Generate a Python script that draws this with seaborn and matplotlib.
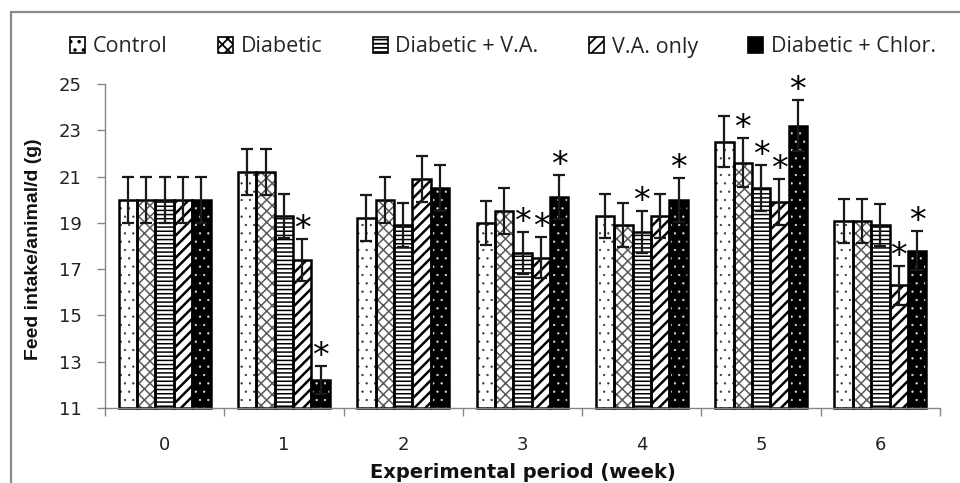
import numpy as np
import pandas as pd
import matplotlib
matplotlib.use("Agg")
import matplotlib.pyplot as plt
import matplotlib.patches as mpatches
from matplotlib.lines import Line2D
import seaborn as sns

# ---- data -------------------------------------------------------------
weeks = ["0", "1", "2", "3", "4", "5", "6"]
groups = ["Control", "Diabetic", "Diabetic + V.A.", "V.A. only", "Diabetic + Chlor."]

control = [20.0, 21.2, 19.2, 19.0, 19.3, 22.5, 19.1]
diabetic = [20.0, 21.2, 20.0, 19.5, 18.9, 21.6, 19.1]
diabetic_va = [20.0, 19.3, 18.9, 17.7, 18.6, 20.5, 18.9]
va_only = [20.0, 17.4, 20.9, 17.5, 19.3, 19.9, 16.3]
diabetic_chlor = [20.0, 12.2, 20.5, 20.1, 20.0, 23.2, 17.8]

control_err = [1.0, 1.0, 1.0, 0.95, 0.95, 1.1, 0.95]
diabetic_err = [1.0, 1.0, 1.0, 1.0, 0.95, 1.05, 0.95]
diabetic_va_err = [1.0, 0.95, 0.95, 0.9, 0.9, 1.0, 0.9]
va_only_err = [1.0, 0.9, 1.0, 0.9, 0.95, 1.0, 0.85]
diabetic_chlor_err = [1.0, 0.6, 1.0, 0.95, 0.95, 1.1, 0.85]

# 1 = significantly different (marked with *)
control_sig = [0, 0, 0, 0, 0, 0, 0]
diabetic_sig = [0, 0, 0, 0, 0, 1, 0]
diabetic_va_sig = [0, 0, 0, 1, 1, 1, 0]
va_only_sig = [0, 1, 0, 1, 0, 1, 1]
diabetic_chlor_sig = [0, 1, 0, 1, 1, 1, 1]

y_ticks = [11, 13, 15, 17, 19, 21, 23, 25]

means = [control, diabetic, diabetic_va, va_only, diabetic_chlor]
errors = [control_err, diabetic_err, diabetic_va_err, va_only_err, diabetic_chlor_err]
signif = [control_sig, diabetic_sig, diabetic_va_sig, va_only_sig, diabetic_chlor_sig]

df = pd.DataFrame({
    "week": np.tile(weeks, len(groups)),
    "group": np.repeat(groups, len(weeks)),
    "intake": np.concatenate(means),
})

# fill / hatch style per group
styles = {
    "Control": dict(face="white", hatch="..", hcolor="#333333", hlw=0.4),
    "Diabetic": dict(face="white", hatch="xxx", hcolor="#5a5a5a", hlw=1.1),
    "Diabetic + V.A.": dict(face="white", hatch="----", hcolor="black", hlw=1.1),
    "V.A. only": dict(face="white", hatch="///", hcolor="black", hlw=1.8),
    "Diabetic + Chlor.": dict(face="black", hatch="..", hcolor="#dddddd", hlw=0.4),
}

sns.set_style("white")
plt.rcParams["hatch.linewidth"] = 1.3
axis_grey = "#868686"

fig = plt.figure(figsize=(9.6, 4.83), dpi=100)
ax = fig.add_axes([105 / 960, 1 - 408 / 483, 835 / 960, 324 / 483])

sns.barplot(data=df, x="week", y="intake", hue="group", order=weeks,
            hue_order=groups, width=0.77, errorbar=None, legend=False,
            palette={g: "white" for g in groups}, ax=ax)

ax.set_ylim(11, 25)
ax.set_xlim(-0.5, 6.5)
base = ax.get_ylim()[0]

for gi, (cont, g) in enumerate(zip(ax.containers, groups)):
    st = styles[g]
    for j, bar in enumerate(cont):
        x0, w, h = bar.get_x(), bar.get_width(), bar.get_height()
        bar.set_y(base)
        bar.set_height(h - base)
        bar.set_facecolor(st["face"])
        bar.set_hatch(st["hatch"])
        bar.set_edgecolor(st["hcolor"])
        bar.set_linewidth(0)
        if hasattr(bar, "set_hatch_linewidth"):
            bar.set_hatch_linewidth(st["hlw"])
        ax.add_patch(mpatches.Rectangle((x0, base), w, h - base, fill=False,
                                        edgecolor="black", linewidth=1.8,
                                        zorder=bar.get_zorder() + 0.1,
                                        clip_on=False))
        cx = x0 + w / 2
        err = errors[gi][j]
        ax.errorbar(cx, h, yerr=err, fmt="none", ecolor="#1a1a1a",
                    elinewidth=1.6, capsize=4, capthick=1.6, zorder=4)
        if signif[gi][j]:
            ax.annotate("*", xy=(cx, h + err), xytext=(0, -5),
                        textcoords="offset points", ha="center", va="bottom",
                        fontsize=24, color="black", zorder=5)

# axes styling
for side in ("top", "right"):
    ax.spines[side].set_visible(False)
for side in ("left", "bottom"):
    ax.spines[side].set_color(axis_grey)
    ax.spines[side].set_linewidth(1)

ax.set_yticks(y_ticks)
ax.tick_params(axis="y", direction="out", length=6, width=1, color=axis_grey,
               labelsize=13, pad=11, labelcolor="#222222", left=True)
ax.set_xticks(range(len(weeks)))
ax.set_xticklabels(weeks)
ax.set_xticks(np.arange(-0.5, len(weeks), 1.0), minor=True)
ax.tick_params(axis="x", which="major", length=0, labelsize=13, pad=20,
               labelcolor="#222222")
ax.tick_params(axis="x", which="minor", direction="out", length=6, width=1,
               color=axis_grey, bottom=True)

ax.set_xlabel("Experimental period (week)", fontsize=14, fontweight="bold",
              color="#111111")
ax.xaxis.set_label_coords(0.5, -0.17)
ax.set_ylabel("Feed intake/animal/d (g)", fontsize=14, fontweight="bold",
              family="Liberation Sans", color="#111111")
ax.yaxis.set_label_coords(-0.075, 0.49)

# legend across the top
handles = [mpatches.Patch(facecolor=styles[g]["face"], edgecolor="black",
                          hatch=styles[g]["hatch"], linewidth=1.2)
           for g in groups]
fig.legend(handles, groups, loc="center", bbox_to_anchor=(503 / 960, 1 - 47 / 483),
           ncol=5, frameon=False, prop={"family": "Open Sans", "size": 15.5},
           handlelength=0.7, handleheight=0.7, handletextpad=0.35,
           columnspacing=2.35, borderaxespad=0, borderpad=0)

# outer frame (top and left edges)
frame_kw = dict(color="#8a8a8a", linewidth=1.6, transform=fig.transFigure)
fig.add_artist(Line2D([11 / 960, 1.0], [1 - 12 / 483, 1 - 12 / 483], **frame_kw))
fig.add_artist(Line2D([11 / 960, 11 / 960], [1 - 12 / 483, 0.0], **frame_kw))

fig.savefig("out.png", dpi=100, facecolor="white")
